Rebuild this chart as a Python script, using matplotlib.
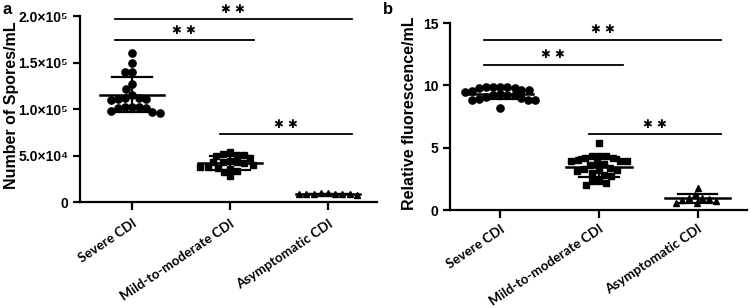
import os
import numpy as np
import matplotlib
matplotlib.use("Agg")
import matplotlib.pyplot as plt
from matplotlib import font_manager
from matplotlib.transforms import ScaledTranslation

plt.rcParams['font.family'] = ['Liberation Sans', 'DejaVu Sans']
plt.rcParams['font.weight'] = 'bold'

categories = ["Severe CDI", "Mild-to-moderate CDI", "Asymptomatic CDI"]

# Panel a: number of spores/mL
a_severe = [1.60e5, 1.50e5, 1.40e5, 1.40e5, 1.27e5, 1.22e5, 1.15e5, 1.12e5, 1.11e5, 1.11e5,
            1.10e5, 1.12e5, 1.02e5, 1.02e5, 1.01e5, 1.01e5, 1.02e5, 0.98e5, 0.97e5, 0.96e5]
a_mild = [5.4e4, 5.2e4, 5.1e4, 5.1e4, 5.0e4, 4.7e4, 4.4e4, 4.3e4, 4.3e4, 4.3e4,
          4.2e4, 4.0e4, 3.8e4, 3.8e4, 3.7e4, 3.6e4, 3.3e4, 3.2e4, 2.8e4]
a_asym = [9.4e3, 9.0e3, 8.6e3, 8.3e3, 8.1e3, 8.2e3, 8.4e3, 8.8e3, 9.3e3]

# Panel b: relative fluorescence/mL
b_severe = [9.9, 9.9, 9.85, 9.85, 9.8, 9.8, 9.6, 9.6, 9.55, 9.5, 9.3, 9.25, 9.2, 9.2,
            9.1, 9.0, 8.9, 8.85, 8.85, 8.8, 8.2]
b_mild = [5.35, 4.3, 4.3, 4.3, 4.2, 4.2, 4.0, 3.95, 3.9, 3.9, 3.75, 3.7, 3.6,
          3.4, 3.3, 3.2, 3.2, 3.1, 3.0, 2.8, 2.7, 2.3, 2.3, 2.2, 2.0]
b_asym = [1.75, 1.2, 1.0, 0.95, 0.9, 0.8, 0.75, 0.6, 0.55]

a_yticks = [0, 5e4, 1e5, 1.5e5, 2e5]
a_yticklabels = ["0", "5.0×10⁴", "1.0×10⁵", "1.5×10⁵", "2.0×10⁵"]
b_yticks = [0, 5, 10, 15]
b_yticklabels = ["0", "5", "10", "15"]

# significance brackets: (start category, end category, height)
a_sig = [(0, 2, 1.968e5), (0, 1, 1.742e5), (1, 2, 0.73e5)]
b_sig = [(0, 2, 13.66), (0, 1, 11.65), (1, 2, 6.08)]
sig_label = "✱ ✱"

markers = ['o', 's', '^']
msizes = [5.2, 5.0, 5.0]

# find an upright bold Lato face explicitly by file name
cat_font = None
for f in font_manager.fontManager.ttflist:
    base = os.path.basename(f.fname).lower()
    if base.startswith('lato-bold.') or base == 'lato-bold.ttf':
        cat_font = font_manager.FontProperties(fname=f.fname, size=9.6)
        break
if cat_font is None:
    cat_font = font_manager.FontProperties(family='Liberation Sans', weight='bold', size=9.2)


def swarm(ax, xc, vals, diam_px):
    """Beeswarm offsets in pixel space, returned in data units."""
    trans = ax.transData
    pts = [trans.transform((xc, v)) for v in vals]
    ys = np.array([p[1] for p in pts])
    x0 = pts[0][0]
    order = np.argsort(-ys)
    placed = []
    xs = np.zeros(len(vals))
    for i in order:
        y = ys[i]
        cands = [0.0]
        for (px, py) in placed:
            dy = abs(py - y)
            if dy < diam_px:
                w = np.sqrt(diam_px ** 2 - dy ** 2)
                cands += [px + w, px - w]
        cands = sorted(cands, key=lambda c: (abs(c), c))
        for c in cands:
            ok = True
            for (px, py) in placed:
                if (px - c) ** 2 + (py - y) ** 2 < diam_px ** 2 - 1e-6:
                    ok = False
                    break
            if ok:
                break
        placed.append((c, y))
        xs[i] = c
    inv = trans.inverted()
    return [inv.transform((x0 + xs[k], ys[k]))[0] for k in range(len(vals))]


def panel(ax, groups, yticks, yticklabels, ylim, ylabel, label_xy, sig, sig_dy, xlim, xpad):
    ax.set_xlim(*xlim)
    ax.set_ylim(*ylim)
    for s in ['top', 'right']:
        ax.spines[s].set_visible(False)
    for s in ['left', 'bottom']:
        ax.spines[s].set_linewidth(1.6)
    ax.set_yticks(yticks)
    ax.set_yticklabels(yticklabels, fontsize=10, fontweight='bold')
    ax.set_xticks(range(len(categories)))
    ax.set_xticklabels(categories, rotation=34, ha='right', rotation_mode='anchor',
                       fontproperties=cat_font)
    shift = ScaledTranslation(5 / 100, 0, ax.figure.dpi_scale_trans)
    for lbl in ax.get_xticklabels():
        lbl.set_transform(lbl.get_transform() + shift)
    ax.tick_params(axis='both', width=1.6, length=5, direction='out')
    ax.tick_params(axis='x', length=6, pad=xpad)
    ax.set_ylabel(ylabel, fontsize=11.5, fontweight='bold')
    ax.yaxis.set_label_coords(*label_xy)
    fig = ax.figure
    fig.canvas.draw()
    for i, vals in enumerate(groups):
        xs = swarm(ax, i, vals, 7.2)
        ax.plot(xs, vals, linestyle='none', marker=markers[i], ms=msizes[i],
                color='black', mec='black', clip_on=False, zorder=3)
        m = np.mean(vals)
        sd = np.std(vals, ddof=1)
        ax.plot([i - 0.33, i + 0.33], [m, m], color='black', lw=1.8, zorder=4)
        ax.plot([i - 0.2, i + 0.2], [m + sd, m + sd], color='black', lw=1.6, zorder=4)
        ax.plot([i - 0.2, i + 0.2], [m - sd, m - sd], color='black', lw=1.6, zorder=4)
        ax.plot([i, i], [m - sd, m + sd], color='black', lw=1.6, zorder=4)
    for (s0, s1, h) in sig:
        left = s0 - 0.17 if s0 == 0 else s0 - 0.1
        right = s1 + 0.24
        ax.plot([left, right], [h, h], color='black', lw=1.3, clip_on=False)
        ax.text((left + right) / 2, h + sig_dy, sig_label, ha='center', va='bottom',
                fontsize=8.5, family=['DejaVu Sans'], clip_on=False)


fig = plt.figure(figsize=(7.5, 3.08), dpi=100)
ax1 = fig.add_axes([0.1067, 0.344, 0.396, 0.604])
ax2 = fig.add_axes([0.600, 0.318, 0.396, 0.607])

panel(ax1, [a_severe, a_mild, a_asym], a_yticks, a_yticklabels, (0, 2e5),
      "Number of Spores/mL", (-0.205, 0.52), a_sig, 0.035e5, (-0.53, 2.5), 5)
panel(ax2, [b_severe, b_mild, b_asym], b_yticks, b_yticklabels, (0, 15),
      "Relative fluorescence/mL", (-0.112, 0.52), b_sig, 0.27, (-0.51, 2.5), 3)

fig.text(0.003, 0.995, "a", fontsize=12, fontweight='bold', va='top', ha='left')
fig.text(0.511, 0.995, "b", fontsize=12, fontweight='bold', va='top', ha='left')

fig.savefig("out.png", dpi=100, facecolor='white')
